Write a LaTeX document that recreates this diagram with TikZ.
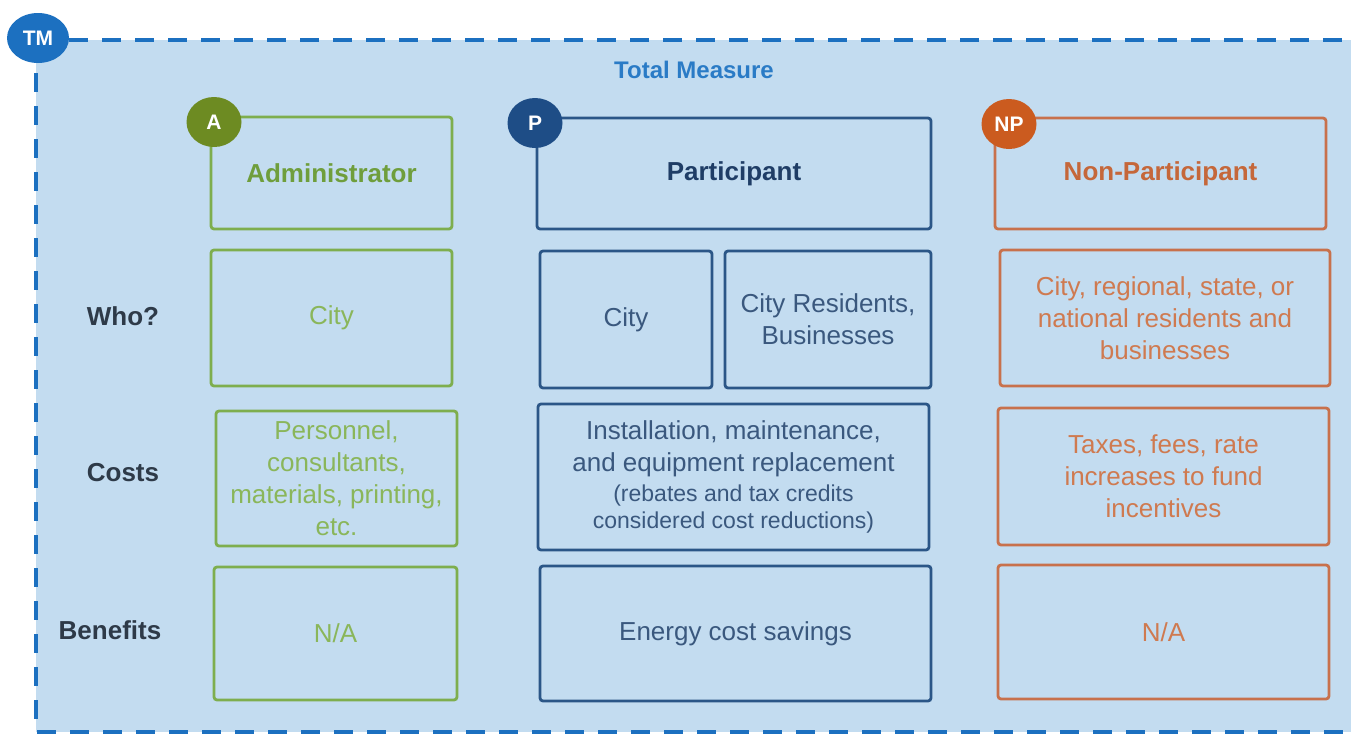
\documentclass[tikz,border=0pt]{standalone}
\usepackage{fontspec}
\setmainfont{Liberation Sans}
\usetikzlibrary{shapes.geometric}
\definecolor{bgc}{HTML}{C3DCF0}
\definecolor{tmc}{HTML}{1C70C0}
\definecolor{tmtext}{HTML}{2A7BC6}
\definecolor{gline}{HTML}{7EAE4E}
\definecolor{ghead}{HTML}{6F9E3C}
\definecolor{gtext}{HTML}{8AB65A}
\definecolor{gcirc}{HTML}{6D8B22}
\definecolor{pline}{HTML}{2B5687}
\definecolor{phead}{HTML}{1F3D66}
\definecolor{ptext}{HTML}{3A587E}
\definecolor{pcirc}{HTML}{1E4D86}
\definecolor{nline}{HTML}{C8714C}
\definecolor{nhead}{HTML}{C5673A}
\definecolor{ntext}{HTML}{CF7A50}
\definecolor{ncirc}{HTML}{CB5B1F}
\definecolor{rowc}{HTML}{2E3A48}
\newcommand\mainf{\fontsize{26}{32}\selectfont}
\newcommand\smallf{\fontsize{23}{27}\selectfont}
\newcommand\mybox[7]{%
 \pgfmathsetmacro\mybw{#5-#3}%
 \pgfmathsetmacro\mybh{#6-#4}%
 \pgfmathsetmacro\mybx{(#3+#5)/2}%
 \pgfmathsetmacro\myby{(#4+#6)/2}%
 \node[#2, minimum width=\mybw pt, minimum height=\mybh pt] (#1) at (\mybx,\myby) {#7};}
\tikzset{
 box/.style={draw, line width=2.8pt, rounded corners=3pt, inner sep=0pt, align=center, font=\mainf},
 gbox/.style={box, draw=gline, text=gtext},
 pbox/.style={box, draw=pline, text=ptext},
 nbox/.style={box, draw=nline, text=ntext},
 ghd/.style={gbox, text=ghead, font=\mainf\bfseries},
 phd/.style={pbox, text=phead, font=\mainf\bfseries},
 nhd/.style={nbox, text=nhead, font=\mainf\bfseries},
 badge/.style={ellipse, fill=#1, text=white, font=\fontsize{21}{21}\selectfont\bfseries, inner sep=0pt, minimum width=55pt, minimum height=50pt},
 rowlab/.style={text=rowc, font=\mainf\bfseries, inner sep=0pt},
 frame/.style={draw=tmc, line width=4pt, dash pattern=on 19pt off 14pt}
}
\begin{document}
\begin{tikzpicture}[x=1pt,y=-1pt]
\useasboundingbox (0,0) rectangle (1351,734);
\fill[bgc] (36,40) rectangle (1351,732);
\draw[frame] (36,40) -- (1351,40);
\draw[frame] (36,40) -- (36,732) -- (1351,732);
\node[badge=tmc, minimum width=62pt, minimum height=50pt] (tm) at (38,38) {TM};
\node[text=tmtext, font=\fontsize{24}{28}\selectfont\bfseries] (total) at (694,70) {Total Measure};
% row labels
\node[rowlab] (who) at (123,316) {Who?};
\node[rowlab] (costs) at (123,473) {Costs};
\node[rowlab] (ben) at (110,630) {Benefits};
% Administrator
\mybox{ah}{ghd}{211}{117}{452}{229}{Administrator}
\mybox{aw}{gbox}{211}{250}{452}{386}{City}
\mybox{ac}{gbox}{216}{411}{457}{546}{Personnel,\\consultants,\\materials, printing,\\etc.}
\mybox{ab}{gbox}{214}{567}{457}{700}{N/A}
% Participant
\mybox{ph}{phd}{537}{118}{931}{229}{Participant}
\mybox{pw1}{pbox}{540}{251}{712}{388}{City}
\mybox{pw2}{pbox}{725}{251}{931}{388}{City Residents,\\Businesses}
\mybox{pc}{pbox,text width=380pt,align=flush center}{538}{404}{929}{550}{Installation, maintenance,\\and equipment replacement\par\vspace{3pt}{\smallf (rebates and tax credits\\considered cost reductions)\par}}
\mybox{pb}{pbox}{540}{566}{931}{701}{Energy cost savings}
% Non-Participant
\mybox{nh}{nhd}{995}{118}{1326}{229}{Non-Participant}
\mybox{nw}{nbox}{1000}{250}{1330}{386}{City, regional, state, or\\national residents and\\businesses}
\mybox{nc}{nbox}{998}{408}{1329}{545}{Taxes, fees, rate\\increases to fund\\incentives}
\mybox{nb}{nbox}{998}{565}{1329}{699}{N/A}
% badges
\node[badge=gcirc] (abadge) at (214,122) {A};
\node[badge=pcirc] (pbadge) at (535,123) {P};
\node[badge=ncirc] (nbadge) at (1009,124) {NP};
\end{tikzpicture}
\end{document}
